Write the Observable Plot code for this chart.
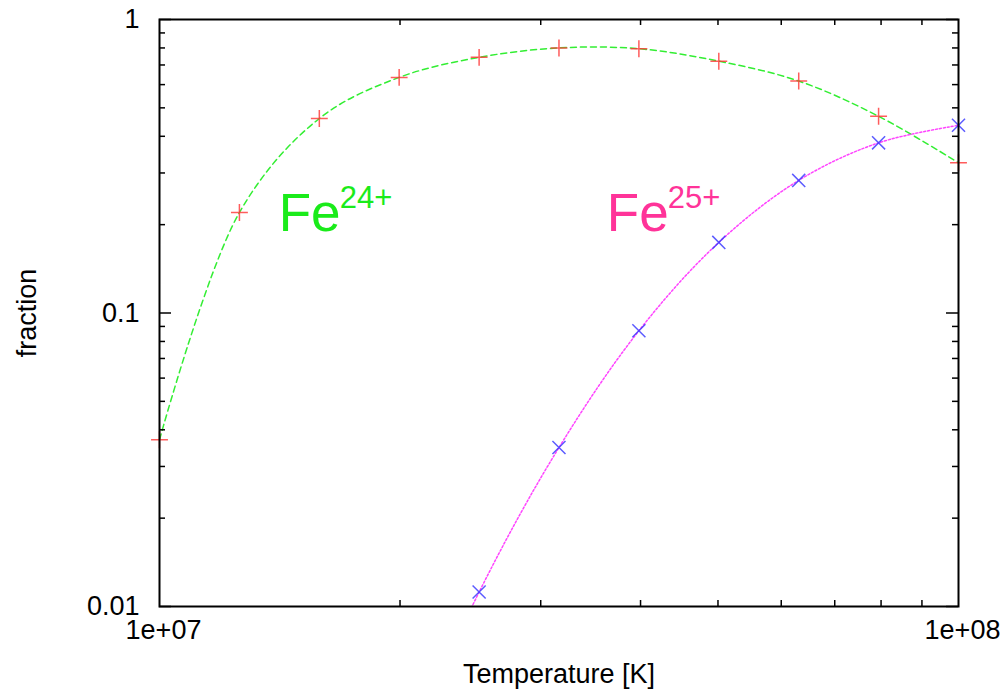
<!DOCTYPE html>
<html>
<head>
<meta charset="utf-8">
<script src="https://cdn.jsdelivr.net/npm/d3@7"></script>
<script src="https://cdn.jsdelivr.net/npm/@observablehq/plot@0.6"></script>
<style>
  html, body { margin: 0; padding: 0; background: #fff; }
  #chart svg { display: block; }
</style>
</head>
<body>
<div id="chart"></div>
<script>
// Temperatures (K), log-spaced by 0.1 dex
const temps = [1e7, 1.259e7, 1.585e7, 1.995e7, 2.512e7, 3.162e7, 3.981e7, 5.012e7, 6.310e7, 7.943e7, 1e8];
// Ion fraction of Fe24+
const fe24 = [0.037, 0.22, 0.46, 0.635, 0.743, 0.80, 0.795, 0.721, 0.617, 0.468, 0.325];
// Ion fraction of Fe25+ (from 2e7 K; first value lies below the plotted range)
const temps25 = [1.995e7, 2.512e7, 3.162e7, 3.981e7, 5.012e7, 6.310e7, 7.943e7, 1e8];
const fe25 = [0.0028, 0.0112, 0.0348, 0.087, 0.174, 0.283, 0.38, 0.436];

// Axis ticks
const xMajor = [1e7, 1e8];
const xMajorLabels = ["1e+07", "1e+08"];
const xMinor = [2e7, 3e7, 4e7, 5e7, 6e7, 7e7, 8e7, 9e7];
const yMajor = [0.01, 0.1, 1];
const yMajorLabels = ["0.01", "0.1", "1"];
const yMinor = [0.02, 0.03, 0.04, 0.05, 0.06, 0.07, 0.08, 0.09, 0.2, 0.3, 0.4, 0.5, 0.6, 0.7, 0.8, 0.9];

// Curve labels
const labelNames = ["Fe", "Fe"];
const labelSups = ["24+", "25+"];
const labelX = [1.41e7, 3.63e7];
const labelY = [0.191, 0.191];
const labelColors = ["#1aeb1a", "#ff3399"];

const W = 1005, H = 691, ML = 159, MR = 47, MT = 19, MB = 85;
const FW = W - ML - MR, FH = H - MT - MB;

const s24 = temps.map((t, i) => ({t, v: fe24[i]}));
const s25 = temps25.map((t, i) => ({t, v: fe25[i]}));
const s25vis = s25.filter(d => d.v >= 0.01);
const labels = labelNames.map((n, i) => ({name: n, sup: labelSups[i], x: labelX[i], y: labelY[i], color: labelColors[i]}));

const tk = {stroke: "black", strokeWidth: 1.5};

const chart = Plot.plot({
  width: W,
  height: H,
  marginLeft: ML,
  marginRight: MR,
  marginTop: MT,
  marginBottom: MB,
  style: {fontFamily: "'Liberation Sans', Arial, sans-serif", background: "#fff"},
  x: {type: "log", domain: [1e7, 1e8], axis: null},
  y: {type: "log", domain: [0.01, 1], axis: null},
  marks: [
    // curves
    Plot.line(s24, {x: "t", y: "v", curve: "catmull-rom", stroke: "#33ee33", strokeWidth: 1.5, strokeDasharray: "6,4"}),
    Plot.line(s25, {x: "t", y: "v", curve: "catmull-rom", stroke: "#ff44ff", strokeWidth: 1.5, strokeDasharray: "2,2", clip: true}),
    // markers
    Plot.dot(s24, {x: "t", y: "v", symbol: "plus", r: 5.5, stroke: "#ff3333", strokeOpacity: 0.8, strokeWidth: 1.5}),
    Plot.dot(s25vis, {x: "t", y: "v", symbol: "times", r: 6, stroke: "#3333ff", strokeOpacity: 0.8, strokeWidth: 1.5}),
    // frame
    Plot.frame({stroke: "black", strokeWidth: 2}),
    // ticks (inward)
    Plot.tickY(yMajor, {y: d => d, insetRight: FW - 12, ...tk}),
    Plot.tickY(yMajor, {y: d => d, insetLeft: FW - 12, ...tk}),
    Plot.tickY(yMinor, {y: d => d, insetRight: FW - 6, ...tk}),
    Plot.tickY(yMinor, {y: d => d, insetLeft: FW - 6, ...tk}),
    Plot.tickX(xMinor, {x: d => d, insetTop: FH - 6, ...tk}),
    Plot.tickX(xMinor, {x: d => d, insetBottom: FH - 6, ...tk}),
    // tick labels
    Plot.text(yMajor, {y: d => d, frameAnchor: "left", text: (d, i) => yMajorLabels[i], textAnchor: "end", dx: -20, fontSize: 27, fill: "black"}),
    Plot.text(xMajor, {x: d => d, frameAnchor: "bottom", text: (d, i) => xMajorLabels[i], textAnchor: "middle", dx: 4, dy: 32, fontSize: 27, fill: "black"}),
    // axis titles
    Plot.text(["fraction"], {frameAnchor: "left", text: d => d, textAnchor: "middle", rotate: -90, dx: -132, fontSize: 27, fill: "black"}),
    Plot.text(["Temperature [K]"], {frameAnchor: "bottom", text: d => d, textAnchor: "middle", dy: 76, fontSize: 27, fill: "black"}),
    // curve labels
    Plot.text(labels, {x: "x", y: "y", text: "name", fill: "color", textAnchor: "start", lineAnchor: "bottom", fontSize: 53}),
    Plot.text(labels, {x: "x", y: "y", text: "sup", fill: "color", textAnchor: "start", lineAnchor: "bottom", fontSize: 31, dx: 61, dy: -23})
  ]
});
document.getElementById("chart").appendChild(chart);
</script>
</body>
</html>
